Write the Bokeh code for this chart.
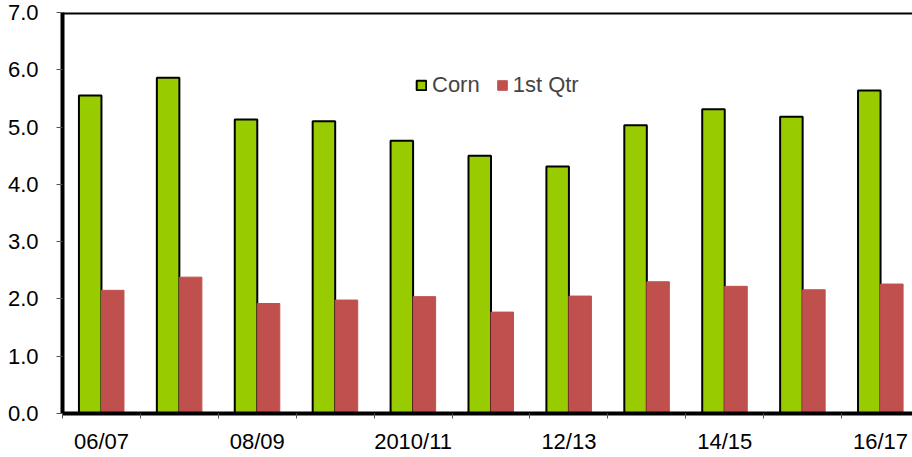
from bokeh.plotting import figure
from bokeh.models import Range1d, FixedTicker, Legend, LegendItem, Span, ColumnDataSource
from bokeh.embed import file_html
from bokeh.resources import INLINE

categories = ["06/07", "07/08", "08/09", "09/10", "2010/11", "11/12",
              "12/13", "13/14", "14/15", "15/16", "16/17"]
corn = [5.55, 5.86, 5.13, 5.10, 4.76, 4.50, 4.31, 5.03, 5.31, 5.18, 5.64]
first_qtr = [2.15, 2.38, 1.92, 1.98, 2.04, 1.77, 2.05, 2.30, 2.22, 2.16, 2.26]
y_ticks = [0, 1, 2, 3, 4, 5, 6, 7]
shown_labels = categories[::2]

FONT = "Liberation Sans"
GREEN = "#99CC00"
RED = "#C0504D"
bw = 0.289

idx = list(range(len(categories)))
src = ColumnDataSource(dict(
    xg=[i + 0.5 - bw / 2 for i in idx],
    xr=[i + 0.5 + bw / 2 for i in idx],
    corn=corn,
    q1=first_qtr,
))

p = figure(frame_width=850, frame_height=401, output_backend="svg",
           toolbar_location=None, x_range=Range1d(0, 10.91), y_range=Range1d(0, 7),
           min_border_left=62, min_border_right=0, min_border_top=12,
           background_fill_color="white", border_fill_color="white")
p.outline_line_color = None
p.xgrid.visible = False
p.ygrid.visible = False

g = p.vbar(x="xg", top="corn", bottom=0, width=bw, source=src,
           fill_color=GREEN, line_color="black", line_width=2)
r = p.vbar(x="xr", top="q1", bottom=0, width=bw, source=src,
           fill_color=RED, line_color=RED, line_width=1)

# y axis
ya = p.yaxis[0]
ya.ticker = FixedTicker(ticks=y_ticks)
ya.major_label_overrides = {t: f"{t:.1f}" for t in y_ticks}
ya.axis_line_width = 4
ya.axis_line_color = "black"
ya.major_tick_out = 6
ya.major_tick_in = 0
ya.major_tick_line_color = "#555555"
ya.minor_tick_line_color = None
ya.major_label_standoff = 18
ya.major_label_text_font = FONT
ya.major_label_text_font_size = "22px"
ya.major_label_text_color = "black"

# x axis
xa = p.xaxis[0]
label_pos = [i + 0.5 for i in idx[::2]]
xa.ticker = FixedTicker(ticks=label_pos, minor_ticks=[i for i in range(len(categories))])
xa.major_label_overrides = {pos: lab for pos, lab in zip(label_pos, shown_labels)}
xa.axis_line_width = 4
xa.axis_line_color = "black"
xa.major_tick_line_color = None
xa.minor_tick_out = 5
xa.minor_tick_in = 0
xa.minor_tick_line_color = "#555555"
xa.major_label_standoff = 9
xa.major_label_text_font = FONT
xa.major_label_text_font_size = "22px"
xa.major_label_text_color = "black"

# top border
p.add_layout(Span(location=7, dimension="width", line_color="black", line_width=4))

legend = Legend(items=[LegendItem(label="Corn", renderers=[g]),
                       LegendItem(label="1st Qtr", renderers=[r])],
                location=(353, 315), orientation="horizontal",
                padding=0, margin=0, spacing=16, label_standoff=5,
                glyph_width=12, glyph_height=12,
                label_text_font=FONT, label_text_font_size="22px",
                background_fill_alpha=0, border_line_color=None)
p.add_layout(legend)

open("out.html", "w").write(file_html(p, INLINE))
